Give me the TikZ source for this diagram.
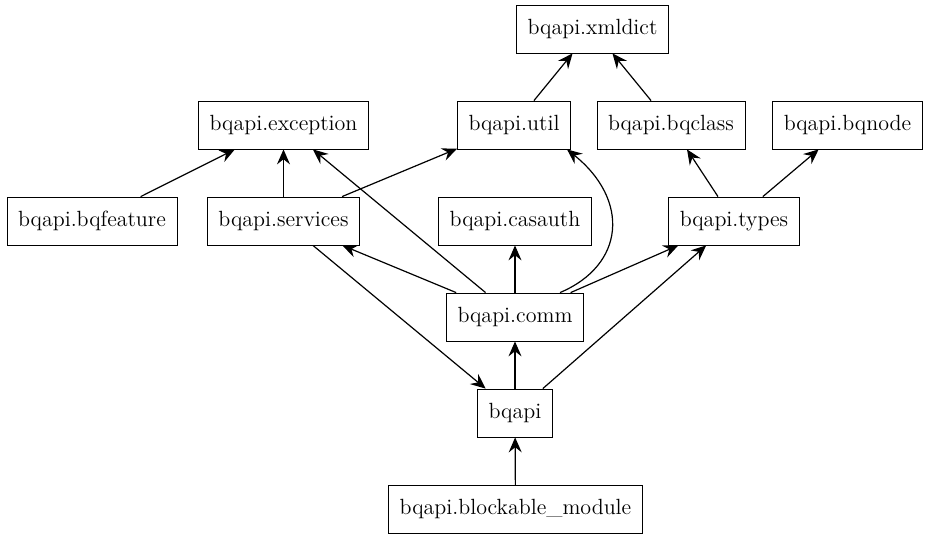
\documentclass[tikz,border=0pt]{standalone}
\usetikzlibrary{arrows.meta}

\begin{document}
\begin{tikzpicture}[
    x=0.5pt, y=-0.5pt,
    module/.style={rectangle, draw, minimum height=24pt, inner xsep=5.5pt, font=\fontsize{11}{13}\selectfont, fill=white},
    dep/.style={draw, line width=0.6pt, -{Stealth[length=7.5pt, width=6.5pt, inset=2.6pt]}}
]
  \useasboundingbox (0,0) rectangle (928,539);
  \node[module] (xmldict) at (592.5, 29) {bqapi.xmldict};
  \node[module] (exception) at (283.5, 125) {bqapi.exception};
  \node[module] (util) at (514, 125) {bqapi.util};
  \node[module] (bqclass) at (671, 125) {bqapi.bqclass};
  \node[module] (bqnode) at (847.5, 125) {bqapi.bqnode};
  \node[module] (bqfeature) at (92, 221) {bqapi.bqfeature};
  \node[module] (services) at (283.5, 221) {bqapi.services};
  \node[module] (casauth) at (515, 221) {bqapi.casauth};
  \node[module] (types) at (734, 221) {bqapi.types};
  \node[module] (comm) at (515, 317) {bqapi.comm};
  \node[module] (bqapi) at (515, 413) {bqapi};
  \node[module] (blockable) at (515.5, 509.5) {bqapi.blockable\_module};
  \foreach \src/\dst in {util/xmldict, bqclass/xmldict, bqfeature/exception,
      services/exception, services/util, comm/exception, comm/services,
      comm/casauth, comm/types, types/bqclass, types/bqnode, bqapi/comm,
      bqapi/types, services/bqapi, blockable/bqapi} {
    \draw[dep] (\src) -- (\dst);
  }
  \draw[dep] ([xshift=22.5pt]comm.north) .. controls (625,265) and (630,200) .. ([xshift=26.5pt]util.south);
\end{tikzpicture}
\end{document}
